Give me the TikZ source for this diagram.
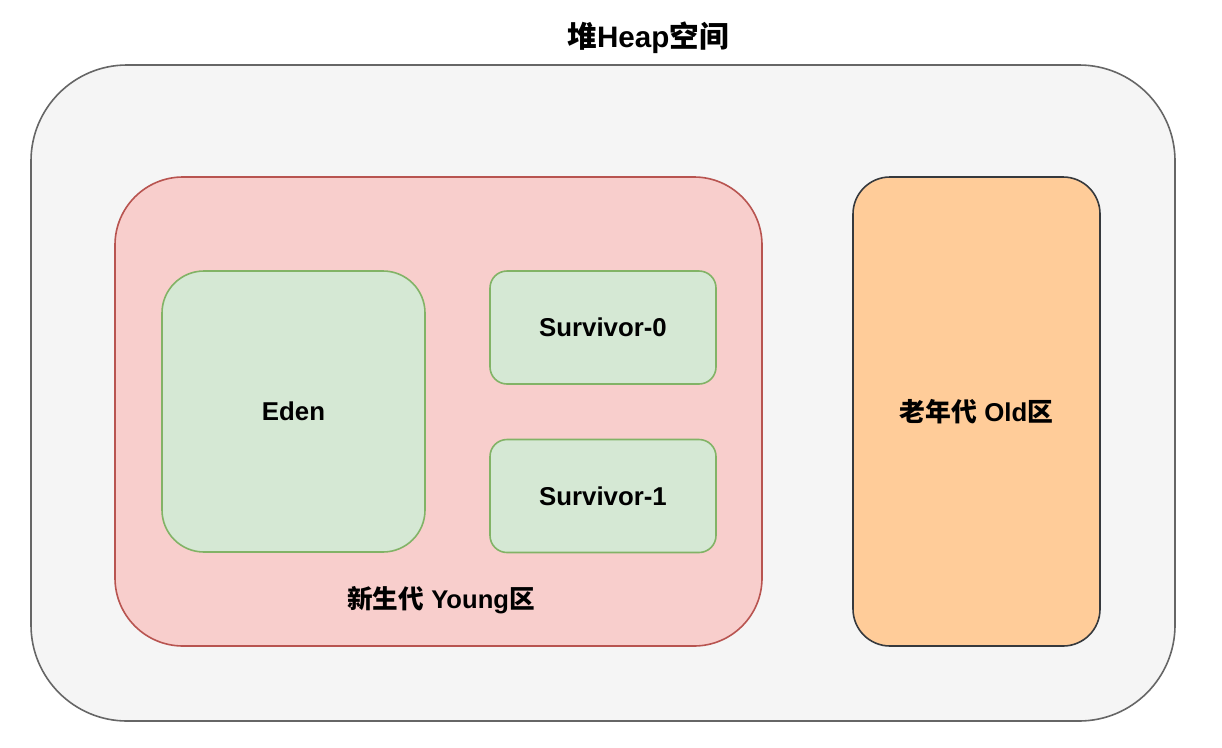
\documentclass[tikz,border=0pt]{standalone}
\usepackage{fontspec}
\setmainfont{Liberation Sans}
\newfontfamily\cjk{Noto Sans CJK SC}
\usepackage{tikz}
\usetikzlibrary{positioning}
\definecolor{heapfill}{HTML}{F5F5F5}
\definecolor{heapline}{HTML}{666666}
\definecolor{youngfill}{HTML}{F8CECC}
\definecolor{youngline}{HTML}{B85450}
\definecolor{edenfill}{HTML}{D5E8D4}
\definecolor{edenline}{HTML}{82B366}
\definecolor{oldfill}{HTML}{FFCC99}
\definecolor{oldline}{HTML}{36393D}

\begin{document}
\begin{tikzpicture}[x=1pt,y=-1pt,
    zone/.style={rectangle,line width=1.6pt,inner sep=0pt,
        font=\fontsize{25.8}{30}\selectfont\bfseries,align=center},
    label/.style={inner sep=0pt,font=\fontsize{25.6}{30}\selectfont\bfseries}]
  \useasboundingbox (0,0) rectangle (1222,747);
  % heap
  \node[zone,draw=heapline,fill=heapfill,rounded corners=96pt,
        minimum width=1144pt,minimum height=656pt] (heap) at (603,393) {};
  \node[label,font=\fontsize{29.6}{34}\selectfont\bfseries] (title) at (648,38)
    {{\cjk 堆}Heap{\cjk 空间}};
  % young generation
  \node[zone,draw=youngline,fill=youngfill,rounded corners=68pt,
        minimum width=647pt,minimum height=469pt] (young) at (438.5,411.5) {};
  \node[label] (younglabel) at (441,600) {{\cjk 新生代} Young{\cjk 区}};
  \node[zone,draw=edenline,fill=edenfill,rounded corners=42pt,
        minimum width=263pt,minimum height=281pt] (eden) at (293.5,411.5) {Eden};
  \node[zone,draw=edenline,fill=edenfill,rounded corners=17pt,
        minimum width=226pt,minimum height=113pt] (surv0) at (603,327.5) {Survivor-0};
  \node[zone,draw=edenline,fill=edenfill,rounded corners=17pt,
        minimum width=226pt,minimum height=113pt] (surv1) at (603,496) {Survivor-1};
  % old generation
  \node[zone,draw=oldline,fill=oldfill,rounded corners=37pt,
        minimum width=247pt,minimum height=469pt] (old) at (976.5,411.5)
    {{\cjk 老年代} Old{\cjk 区}};
\end{tikzpicture}
\end{document}
